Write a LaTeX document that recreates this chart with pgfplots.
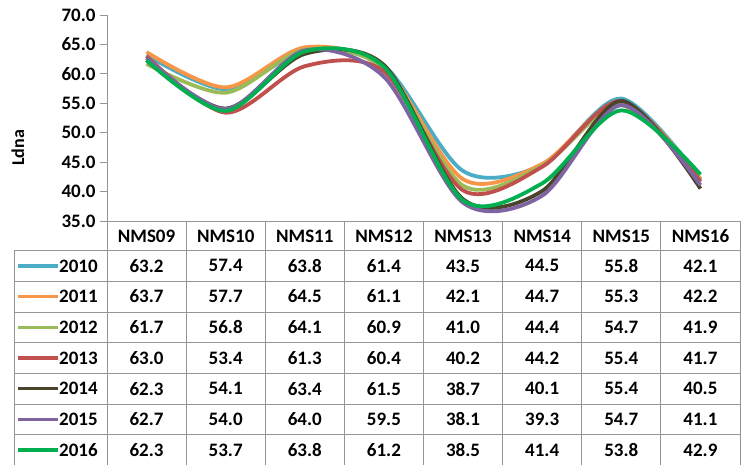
\documentclass[border=0pt]{standalone}
\usepackage{fontspec}
\setmainfont{Carlito}
\usepackage{pgfplots}
\pgfplotsset{compat=1.18}
\usepackage{pgfplotstable}

\definecolor{c2010}{HTML}{4BACC6}
\definecolor{c2011}{HTML}{F79646}
\definecolor{c2012}{HTML}{9BBB59}
\definecolor{c2013}{HTML}{C0504D}
\definecolor{c2014}{HTML}{4A452A}
\definecolor{c2015}{HTML}{8064A2}
\definecolor{c2016}{HTML}{00B050}
\definecolor{gridgray}{HTML}{969696}

% rows = stations NMS09..NMS16, columns = years
\pgfplotstableread{
x  y2010 y2011 y2012 y2013 y2014 y2015 y2016
0  63.2  63.7  61.7  63.0  62.3  62.7  62.3
1  57.4  57.7  56.8  53.4  54.1  54.0  53.7
2  63.8  64.5  64.1  61.3  63.4  64.0  63.8
3  61.4  61.1  60.9  60.4  61.5  59.5  61.2
4  43.5  42.1  41.0  40.2  38.7  38.1  38.5
5  44.5  44.7  44.4  44.2  40.1  39.3  41.4
6  55.8  55.3  54.7  55.4  55.4  54.7  53.8
7  42.1  42.2  41.9  41.7  40.5  41.1  42.9
}\datatable

\newcommand{\tabfont}{\bfseries\fontsize{19}{22}\selectfont}

\begin{document}
\begin{tikzpicture}
\begin{axis}[
  at={(0pt,0pt)}, anchor=south west,
  scale only axis,
  width=633pt, height=206pt,
  xmin=-0.5, xmax=7.5,
  ymin=35, ymax=70,
  ytick={35,40,...,70},
  yticklabels={35.0,40.0,45.0,50.0,55.0,60.0,65.0,70.0},
  xtick=\empty,
  minor xtick={-0.5,0.5,...,7.5},
  xminorgrids,
  minor grid style={gridgray, line width=0.8pt},
  minor tick length=0pt,
  axis lines*=left,
  axis line style={gridgray, line width=0.8pt},
  tick align=outside,
  major tick length=7pt,
  ytick style={gridgray, line width=0.8pt},
  yticklabel style={font=\tabfont, xshift=-1pt},
  clip=false,
]
\addplot[c2010, line width=3.8pt, smooth] table[x=x, y=y2010]{\datatable};
\addplot[c2011, line width=3.8pt, smooth] table[x=x, y=y2011]{\datatable};
\addplot[c2012, line width=3.8pt, smooth] table[x=x, y=y2012]{\datatable};
\addplot[c2013, line width=3.8pt, smooth] table[x=x, y=y2013]{\datatable};
\addplot[c2014, line width=3.8pt, smooth] table[x=x, y=y2014]{\datatable};
\addplot[c2015, line width=3.8pt, smooth] table[x=x, y=y2015]{\datatable};
\addplot[c2016, line width=3.8pt, smooth] table[x=x, y=y2016]{\datatable};
\end{axis}

% y label
\node[rotate=90, font=\bfseries\fontsize{18}{21}\selectfont] at (-89pt,73pt) {Ldna};

% data table below the plot
\begin{scope}[gridgray, line width=0.8pt]
  \foreach \k in {0,...,7} {
    \draw (-93pt,{-29.5pt-30.7pt*\k}) -- (633pt,{-29.5pt-30.7pt*\k});
  }
  \draw (-93pt,-29.5pt) -- (-93pt,-250pt);
  \foreach \c in {0,...,8} {
    \draw ({79.125pt*\c},0pt) -- ({79.125pt*\c},-250pt);
  }
\end{scope}

\foreach \name [count=\i from 0] in {NMS09,NMS10,NMS11,NMS12,NMS13,NMS14,NMS15,NMS16} {
  \node[font=\tabfont] at ({79.125pt*(\i+0.5)},-15pt) {\name};
}

\foreach \yr [count=\j from 0] in {2010,2011,2012,2013,2014,2015,2016} {
  \draw[c\yr, line width=3.5pt] (-89pt,{-44.85pt-30.7pt*\j}) -- (-49pt,{-44.85pt-30.7pt*\j});
  \node[font=\tabfont, anchor=west, inner sep=0pt] at (-48pt,{-44.85pt-30.7pt*\j}) {\yr};
  \foreach \r in {0,...,7} {
    \pgfplotstablegetelem{\r}{y\yr}\of\datatable
    \node[font=\tabfont] at ({79.125pt*(\r+0.5)},{-44.85pt-30.7pt*\j}) {\pgfplotsretval};
  }
}

\pgfresetboundingbox
\path[use as bounding box] (-107pt,-243pt) rectangle (634pt,221pt);
\end{tikzpicture}
\end{document}
